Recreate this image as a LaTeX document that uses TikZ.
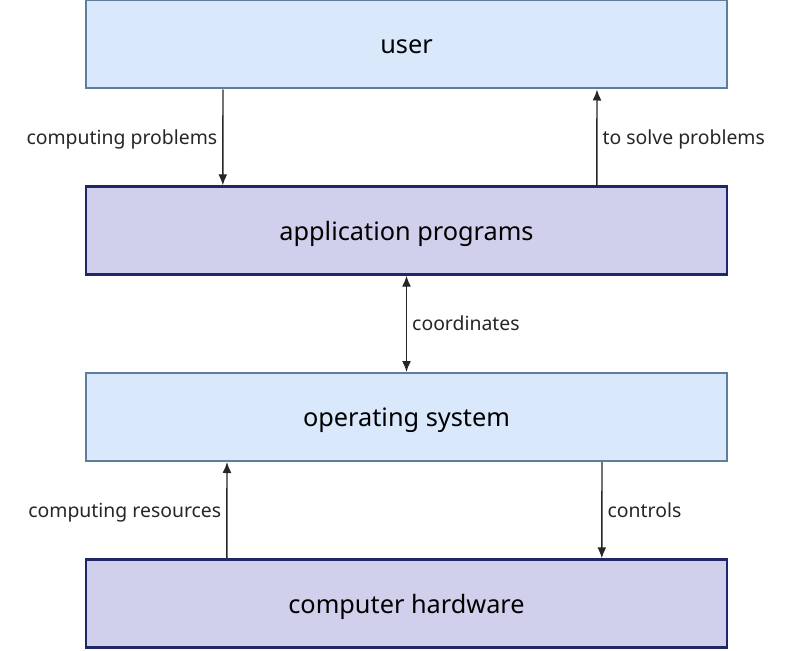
\documentclass[tikz,border=0pt]{standalone}
\usepackage{fontspec}
\setmainfont{Noto Sans}
\usetikzlibrary{arrows.meta}
\definecolor{lightfill}{HTML}{DAE8FC}
\definecolor{lightedge}{HTML}{5F7E9E}
\definecolor{darkfill}{HTML}{D0D0EC}
\definecolor{darkedge}{HTML}{1F2766}
\begin{document}
\begin{tikzpicture}[x=1pt, y=-1pt, every node/.style={font=\fontsize{19.4}{22}\selectfont},
  layer/.style={minimum width=641pt,minimum height=88pt,inner sep=0pt,
    text height=24pt,text depth=5pt,font=\fontsize{25.3}{28}\selectfont},
  upper/.style={layer,draw=lightedge,line width=2pt,fill=lightfill},
  lower/.style={layer,draw=darkedge,line width=2.4pt,fill=darkfill},
  tag/.style={midway,inner sep=5pt,text height=18pt,text depth=4pt},
  flow/.style={line width=1.4pt,black!85,-{Latex[length=11pt,width=9pt]}}]
\useasboundingbox (0,0) rectangle (810,650);
\node[upper] (user) at (406.5,44.5) {user};
\node[lower] (app) at (406.5,230.5) {application programs};
\node[upper] (os) at (406.5,417) {operating system};
\node[lower] (hw) at (406.5,603.5) {computer hardware};
\draw[flow] ([xshift=138pt]user.south west) -- ([xshift=138pt]app.north west)
  node[tag,left] {computing problems};
\draw[flow] ([xshift=512pt]app.north west) -- ([xshift=512pt]user.south west)
  node[tag,right] {to solve problems};
\draw[flow,{Latex[length=11pt,width=9pt]}-{Latex[length=11pt,width=9pt]}] (app) -- (os)
  node[tag,right] {coordinates};
\draw[flow] ([xshift=142pt]hw.north west) -- ([xshift=142pt]os.south west)
  node[tag,left] {computing resources};
\draw[flow] ([xshift=517pt]os.south west) -- ([xshift=517pt]hw.north west)
  node[tag,right] {controls};
\end{tikzpicture}
\end{document}
